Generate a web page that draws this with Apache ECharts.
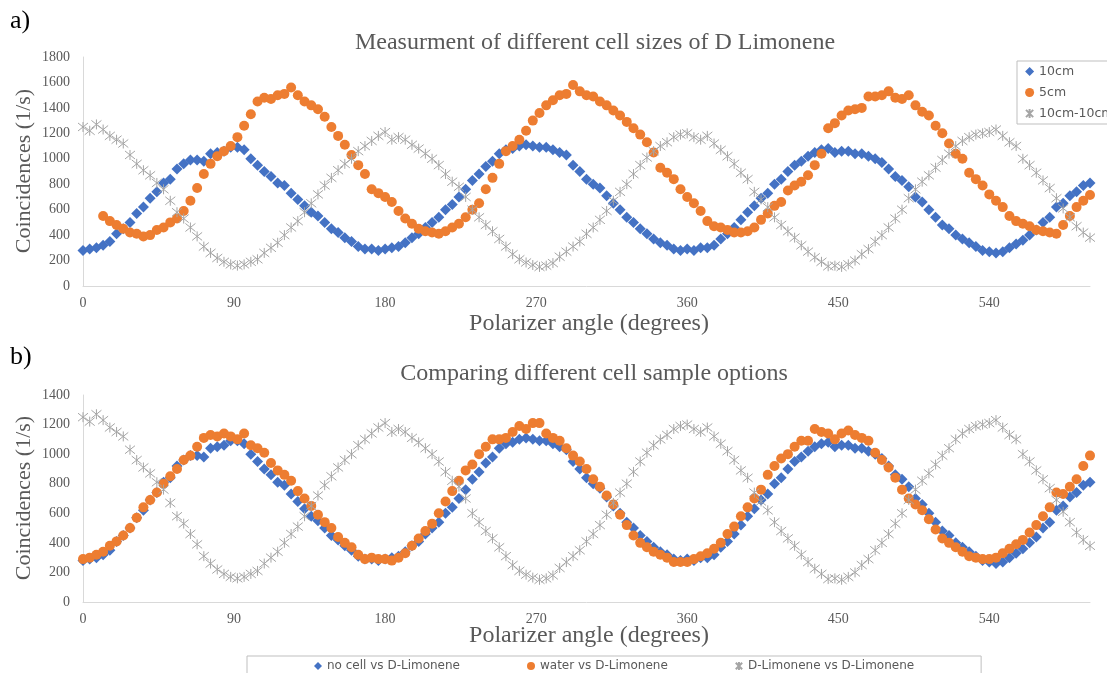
<!DOCTYPE html>
<html>
<head>
<meta charset="utf-8">
<title>D Limonene coincidences</title>
<script src="https://cdn.jsdelivr.net/npm/echarts@6/dist/echarts.min.js"></script>
<style>
  html, body { margin: 0; padding: 0; background: #fff; }
  #chart { width: 1107px; height: 673px; }
</style>
</head>
<body>
<div id="chart"></div>
<script>
// polarizer angle (degrees), one reading every 4 degrees
var angles = [
  0, 4, 8, 12, 16, 20, 24, 28, 32, 36,
  40, 44, 48, 52, 56, 60, 64, 68, 72, 76,
  80, 84, 88, 92, 96, 100, 104, 108, 112, 116,
  120, 124, 128, 132, 136, 140, 144, 148, 152, 156,
  160, 164, 168, 172, 176, 180, 184, 188, 192, 196,
  200, 204, 208, 212, 216, 220, 224, 228, 232, 236,
  240, 244, 248, 252, 256, 260, 264, 268, 272, 276,
  280, 284, 288, 292, 296, 300, 304, 308, 312, 316,
  320, 324, 328, 332, 336, 340, 344, 348, 352, 356,
  360, 364, 368, 372, 376, 380, 384, 388, 392, 396,
  400, 404, 408, 412, 416, 420, 424, 428, 432, 436,
  440, 444, 448, 452, 456, 460, 464, 468, 472, 476,
  480, 484, 488, 492, 496, 500, 504, 508, 512, 516,
  520, 524, 528, 532, 536, 540, 544, 548, 552, 556,
  560, 564, 568, 572, 576, 580, 584, 588, 592, 596,
  600
]

// blue: 10cm (a) / no cell (b) - same run in both panels
var noCell = [
  280, 290, 300, 320, 350, 410, 450, 500, 570, 620,
  690, 740, 810, 840, 920, 960, 990, 990, 980, 1040,
  1050, 1060, 1090, 1090, 1070, 1000, 950, 900, 860, 810,
  790, 730, 680, 630, 580, 550, 500, 450, 420, 380,
  350, 310, 290, 290, 280, 290, 300, 310, 340, 380,
  410, 460, 500, 540, 600, 640, 700, 760, 830, 880,
  940, 980, 1040, 1070, 1080, 1100, 1110, 1100, 1090, 1090,
  1070, 1050, 1030, 950, 900, 840, 800, 770, 710, 650,
  600, 540, 500, 450, 410, 370, 340, 320, 290, 280,
  290, 280, 300, 300, 320, 370, 410, 460, 520, 580,
  630, 690, 730, 800, 840, 900, 950, 980, 1020, 1050,
  1070, 1080, 1050, 1060, 1060, 1040, 1040, 1020, 1000, 970,
  920, 860, 830, 780, 700, 660, 600, 540, 480, 450,
  400, 370, 340, 310, 280, 270, 260, 270, 300, 330,
  360, 400, 440, 500, 540, 620, 650, 710, 740, 790,
  810
]

// orange (a): 5cm cell
var cell5 = [
  null, null, null, 550, 510, 480, 450, 420, 410, 390,
  400, 440, 460, 500, 530, 590, 670, 770, 880, 960,
  1020, 1060, 1100, 1170, 1260, 1350, 1450, 1480, 1470, 1500,
  1510, 1560, 1500, 1450, 1420, 1390, 1330, 1250, 1180, 1110,
  1030, 950, 880, 760, 730, 700, 660, 590, 530, 490,
  450, 430, 420, 410, 430, 460, 490, 540, 600, 650,
  760, 850, 960, 1060, 1100, 1150, 1220, 1300, 1360, 1420,
  1460, 1500, 1510, 1580, 1530, 1500, 1490, 1450, 1420, 1380,
  1340, 1290, 1240, 1190, 1130, 1050, 930, 890, 840, 760,
  700, 650, 590, 510, 470, 460, 440, 420, 420, 430,
  460, 520, 570, 630, 660, 750, 790, 820, 870, 950,
  1040, 1240, 1280, 1340, 1380, 1390, 1400, 1490, 1490, 1500,
  1530, 1480, 1470, 1500, 1420, 1370, 1340, 1260, 1200, 1120,
  1040, 1000, 890, 840, 790, 720, 670, 620, 550, 510,
  490, 470, 440, 430, 420, 410, 480, 550, 620, 670,
  715
]

// orange (b): water vs D-Limonene
var water = [
  290, 300, 320, 340, 380, 410, 450, 500, 570, 640,
  690, 740, 800, 850, 900, 960, 990, 1050, 1110, 1130,
  1120, 1140, 1120, 1100, 1140, 1060, 1040, 1010, 940, 890,
  860, 820, 750, 700, 650, 590, 540, 500, 440, 400,
  370, 320, 290, 300, 290, 290, 280, 300, 330, 380,
  430, 480, 530, 600, 680, 750, 820, 890, 930, 1000,
  1050, 1100, 1100, 1110, 1150, 1190, 1170, 1210, 1210, 1140,
  1110, 1090, 1040, 990, 950, 900, 830, 780, 720, 660,
  590, 520, 450, 400, 370, 340, 320, 300, 270, 270,
  270, 290, 310, 330, 360, 400, 460, 510, 580, 640,
  700, 760, 860, 920, 970, 1000, 1050, 1090, 1090, 1170,
  1150, 1140, 1100, 1140, 1160, 1130, 1110, 1090, 1010, 960,
  910, 840, 760, 700, 660, 620, 560, 490, 430, 400,
  370, 340, 310, 300, 290, 290, 300, 330, 360, 390,
  420, 470, 520, 580, 640, 740, 730, 780, 830, 920,
  990
]

// grey: 10cm-10cm (a) / D-Limonene vs D-Limonene (b)
var limonene = [
  1250, 1220, 1270, 1230, 1180, 1150, 1120, 1030, 960, 910,
  870, 810, 760, 670, 580, 530, 460, 390, 310, 260,
  220, 190, 170, 160, 170, 190, 210, 260, 300, 340,
  400, 460, 510, 580, 650, 720, 790, 850, 910, 960,
  1000, 1060, 1100, 1140, 1180, 1210, 1150, 1170, 1150, 1110,
  1080, 1040, 1000, 950, 880, 820, 780, 700, 600, 540,
  480, 430, 370, 310, 250, 210, 185, 165, 150, 160,
  180, 230, 270, 310, 350, 410, 460, 520, 590, 670,
  740, 800, 880, 950, 1010, 1060, 1100, 1130, 1170, 1190,
  1200, 1170, 1150, 1180, 1120, 1070, 1020, 960, 890, 840,
  740, 680, 620, 540, 480, 430, 380, 320, 270, 225,
  190, 155, 160, 150, 170, 200, 250, 290, 350, 400,
  460, 530, 600, 690, 760, 820, 870, 930, 990, 1040,
  1100, 1140, 1170, 1190, 1200, 1210, 1230, 1180, 1130, 1100,
  1000, 950, 890, 830, 770, 690, 610, 540, 470, 420,
  380
]

var xTickLabels = [0, 90, 180, 270, 360, 450, 540]
var topYMax = 1800
var bottomYMax = 1400

var blue = '#4472C4'
var orange = '#ED7D31'
var grey = '#A5A5A5'
var textGrey = '#595959'
var serif = '"Liberation Serif", "DejaVu Serif", serif'
var sans = '"DejaVu Sans", sans-serif'
var star = 'path://M1,1L9,9M9,1L1,9M5,0L5,10'

function pairs(vals) {
  return angles.map(function (a, i) { return [a, vals[i]] })
    .filter(function (p) { return p[1] != null })
}

function xAxis(idx) {
  return {
    type: 'value', gridIndex: idx, min: 0, max: 600, interval: 90,
    axisLine: { show: true, lineStyle: { color: '#d9d9d9' } },
    axisTick: { show: false },
    splitLine: { show: false },
    axisLabel: {
      margin: 10, color: textGrey, fontFamily: serif, fontSize: 14,
      formatter: function (v) { return xTickLabels.indexOf(v) >= 0 ? String(v) : '' }
    }
  }
}

function yAxis(idx, max) {
  return {
    type: 'value', gridIndex: idx, min: 0, max: max, interval: 200,
    axisLine: { show: true, lineStyle: { color: '#d9d9d9' } },
    axisTick: { show: false },
    splitLine: { show: false },
    axisLabel: {
      margin: 13, color: textGrey, fontFamily: serif, fontSize: 14,
      formatter: function (v) { return String(v) }
    }
  }
}

function scatter(name, idx, vals, kind) {
  var s = { name: name, type: 'scatter', xAxisIndex: idx, yAxisIndex: idx, data: pairs(vals) }
  if (kind === 'blue') {
    s.symbol = 'diamond'
    s.symbolSize = 11
    s.itemStyle = { color: blue, opacity: 1 }
  } else if (kind === 'orange') {
    s.symbol = 'circle'
    s.symbolSize = 10
    s.itemStyle = { color: orange, opacity: 1 }
  } else {
    s.symbol = star
    s.symbolSize = 10
    s.itemStyle = { color: 'rgba(0,0,0,0)', borderColor: grey, borderWidth: 1, opacity: 1 }
  }
  return s
}

function label(text, x, y, size, color, rot) {
  return {
    type: 'text', x: x, y: y, rotation: rot || 0,
    style: { text: text, fontFamily: serif, fontSize: size, fill: color, align: 'center', verticalAlign: 'middle' }
  }
}

var chart = echarts.init(document.getElementById('chart'))
chart.setOption({
  animation: false,
  backgroundColor: '#fff',
  grid: [
    { left: 83, top: 57, width: 1007, height: 229 },
    { left: 83, top: 395, width: 1007, height: 207 }
  ],
  xAxis: [xAxis(0), xAxis(1)],
  yAxis: [yAxis(0, topYMax), yAxis(1, bottomYMax)],
  legend: [
    {
      data: ['10cm', '5cm', '10cm-10cm'],
      orient: 'vertical', left: 1017, top: 61,
      itemWidth: 9, itemHeight: 9, itemGap: 8,
      padding: [4, 40, 4, 8],
      borderColor: '#bfbfbf', borderWidth: 1,
      textStyle: { fontFamily: sans, fontSize: 12.5, color: textGrey }
    },
    {
      data: ['no cell vs D-Limonene', 'water vs D-Limonene', 'D-Limonene vs D-Limonene'],
      orient: 'horizontal', left: 247, top: 656,
      itemWidth: 8, itemHeight: 8, itemGap: 67,
      padding: [4, 67, 4, 67],
      borderColor: '#bfbfbf', borderWidth: 1,
      textStyle: { fontFamily: sans, fontSize: 12, color: textGrey }
    }
  ],
  graphic: [
    { type: 'text', left: 10, top: 8, style: { text: 'a)', fontFamily: serif, fontSize: 26, fill: '#000' } },
    { type: 'text', left: 10, top: 344, style: { text: 'b)', fontFamily: serif, fontSize: 26, fill: '#000' } },
    label('Measurment of different cell sizes of D Limonene', 595, 43, 24, textGrey),
    label('Comparing different cell sample options', 594, 374, 24, textGrey),
    label('Polarizer angle (degrees)', 589, 324, 24, textGrey),
    label('Polarizer angle (degrees)', 589, 636, 24, textGrey),
    label('Coincidences (1/s)', 24, 171, 22, textGrey, Math.PI / 2),
    label('Coincidences (1/s)', 24, 498, 22, textGrey, Math.PI / 2)
  ],
  series: [
    scatter('10cm', 0, noCell, 'blue'),
    scatter('5cm', 0, cell5, 'orange'),
    scatter('10cm-10cm', 0, limonene, 'grey'),
    scatter('no cell vs D-Limonene', 1, noCell, 'blue'),
    scatter('water vs D-Limonene', 1, water, 'orange'),
    scatter('D-Limonene vs D-Limonene', 1, limonene, 'grey')
  ]
})
</script>
</body>
</html>
